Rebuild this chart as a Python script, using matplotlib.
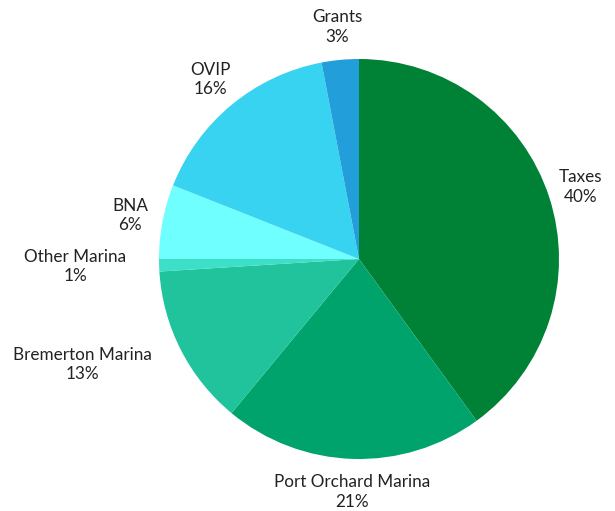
import numpy as np
import matplotlib
matplotlib.use("Agg")
import matplotlib.pyplot as plt

# Revenue shares (percent), clockwise from 12 o'clock
categories = ["Taxes", "Port Orchard Marina", "Bremerton Marina", "Other Marina",
              "BNA", "OVIP", "Grants"]
shares = [40, 21, 13, 1, 6, 16, 3]
colors = ["#008236", "#00a36b", "#20c39c", "#3ddfc8", "#6fffff", "#38d3f0", "#229fda"]

plt.rcParams["font.family"] = ["Lato", "DejaVu Sans"]

fig = plt.figure(figsize=(6.15, 5.11), dpi=100)
ax = fig.add_axes([0, 0, 1, 1])
ax.axis("off")

wedges, _ = ax.pie(shares, colors=colors, startangle=90, counterclock=False,
                   radius=1.0, wedgeprops=dict(linewidth=0))
ax.set_xlim(-1.795, 1.28)
ax.set_ylim(-1.26, 1.295)
ax.set_aspect("auto")

# Labels centred at 1.165R on the mid-angle ray; if that would overlap the pie,
# anchor the near edge of the text there instead
fig.canvas.draw()
renderer = fig.canvas.get_renderer()
inv = ax.transData.inverted()
label_r = 1.165
for w, name, val in zip(wedges, categories, shares):
    ang = np.deg2rad((w.theta1 + w.theta2) / 2)
    cx, cy = label_r * np.cos(ang), label_r * np.sin(ang)
    txt = ax.text(cx, cy, f"{name}\n{val}%", ha="center", va="center",
                  multialignment="center", fontsize=12.3, color="#222222",
                  linespacing=1.25)
    bb = txt.get_window_extent(renderer)
    (x0, y0), (x1, y1) = inv.transform([[bb.x0, bb.y0], [bb.x1, bb.y1]])
    nx = np.clip(0, x0, x1)
    ny = np.clip(0, y0, y1)
    if np.hypot(nx, ny) < 1.02:
        txt.set_ha("right" if cx < 0 else "left")

fig.savefig("out.png", dpi=100)
